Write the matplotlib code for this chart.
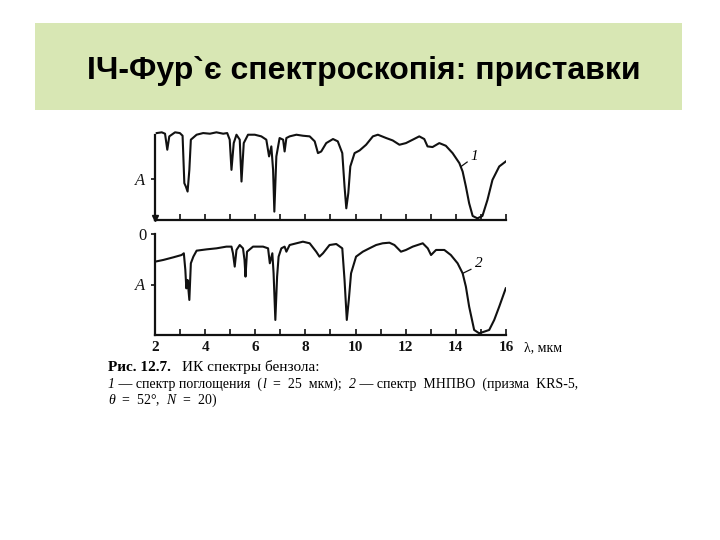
import numpy as np
import matplotlib
matplotlib.use('Agg')
import matplotlib.pyplot as plt
from matplotlib.patches import Rectangle

plt.rcParams['mathtext.fontset'] = 'custom'
plt.rcParams['mathtext.rm'] = 'Liberation Serif'
plt.rcParams['mathtext.it'] = 'Liberation Serif:italic'

# spectrum 1: absorption spectrum (wavelength, relative signal)
lam1 = [2.07, 2.27, 2.40, 2.49, 2.57, 2.80, 2.99, 3.10, 3.17, 3.23, 3.30, 3.37, 3.43,
        3.66, 3.92, 4.19, 4.45, 4.72, 4.88, 4.98, 5.05, 5.14, 5.25, 5.38, 5.45, 5.54,
        5.71, 5.98, 6.24, 6.44, 6.55, 6.64, 6.71, 6.76, 6.84, 6.97, 7.11, 7.17, 7.24,
        7.37, 7.64, 7.90, 8.17, 8.37, 8.50, 8.63, 8.83, 9.10, 9.29, 9.47, 9.56, 9.63,
        9.71, 9.79, 9.96, 10.16, 10.42, 10.69, 10.89, 11.22, 11.48, 11.75, 12.01, 12.28,
        12.54, 12.74, 12.87, 13.07, 13.34, 13.60, 13.87, 14.14, 14.27, 14.40, 14.53,
        14.67, 14.86, 15.06, 15.26, 15.46, 15.73, 15.99]
sig1 = [0.945, 0.953, 0.938, 0.764, 0.909, 0.953, 0.945, 0.916, 0.40, 0.364, 0.309, 0.545, 0.873,
        0.927, 0.945, 0.938, 0.953, 0.938, 0.945, 0.873, 0.545, 0.836, 0.927, 0.873, 0.418, 0.836,
        0.927, 0.927, 0.909, 0.873, 0.691, 0.80, 0.545, 0.091, 0.691, 0.891, 0.873, 0.745, 0.891,
        0.909, 0.927, 0.916, 0.909, 0.855, 0.727, 0.745, 0.836, 0.88, 0.855, 0.727, 0.364, 0.127,
        0.291, 0.582, 0.727, 0.756, 0.818, 0.909, 0.927, 0.891, 0.865, 0.818, 0.836, 0.873,
        0.909, 0.88, 0.80, 0.793, 0.836, 0.807, 0.727, 0.618, 0.527, 0.364, 0.182,
        0.044, 0.018, 0.044, 0.218, 0.436, 0.582, 0.636]

# spectrum 2: ATR (МНПВО) spectrum
lam2 = [2.00, 2.33, 2.73, 3.06, 3.15, 3.21, 3.25, 3.30, 3.37, 3.43, 3.53, 3.66, 4.06,
        4.45, 4.85, 5.05, 5.11, 5.18, 5.25, 5.38, 5.51, 5.57, 5.61, 5.67, 5.91, 6.31,
        6.51, 6.58, 6.68, 6.73, 6.80, 6.87, 6.93, 7.04, 7.17, 7.24, 7.37, 7.64, 7.90,
        8.17, 8.43, 8.56, 8.70, 8.96, 9.23, 9.47, 9.56, 9.65, 9.73, 9.82, 10.02, 10.29,
        10.55, 10.82, 11.08, 11.35, 11.55, 11.81, 12.01, 12.28, 12.68, 12.88, 13.01,
        13.21, 13.54, 13.80, 14.07, 14.27, 14.40, 14.53, 14.73, 14.93, 15.13, 15.33,
        15.53, 15.73, 15.99]
sig2 = [0.726, 0.743, 0.769, 0.792, 0.809, 0.644, 0.462, 0.545, 0.347, 0.71, 0.776, 0.835, 0.848,
        0.858, 0.875, 0.875, 0.809, 0.677, 0.842, 0.891, 0.858, 0.743, 0.578, 0.825, 0.875, 0.875,
        0.858, 0.71, 0.809, 0.611, 0.149, 0.578, 0.776, 0.858, 0.875, 0.825, 0.891, 0.908, 0.924,
        0.908, 0.825, 0.776, 0.809, 0.891, 0.901, 0.858, 0.545, 0.149, 0.347, 0.611, 0.776, 0.825,
        0.858, 0.891, 0.908, 0.914, 0.891, 0.825, 0.842, 0.875, 0.908, 0.858, 0.792,
        0.842, 0.842, 0.792, 0.71, 0.611, 0.479, 0.281, 0.05, 0.017, 0.033, 0.05,
        0.149, 0.281, 0.462]

xticks = list(range(2, 17))
xticklabels = [str(t) if t % 2 == 0 else '' for t in xticks]

W, H = 720, 540
fig = plt.figure(figsize=(7.2, 5.4), dpi=100)
fig.patch.set_facecolor('white')

# title box
fig.patches.append(Rectangle((35 / W, 1 - 110 / H), 647 / W, 87 / H, transform=fig.transFigure,
                             facecolor='#d8e7b4', edgecolor='none', zorder=0))
fig.text(364 / W, 1 - 79 / H, 'ІЧ-Фур`є спектроскопія: приставки', ha='center', va='baseline',
         fontsize=23, fontweight='bold', family='Liberation Sans', color='black')

left, width = 155 / W, 351 / W
ax1 = fig.add_axes([left, 1 - 220 / H, width, 92 / H])
ax2 = fig.add_axes([left, 1 - 335 / H, width, 101 / H])

serif = 'Liberation Serif'
for ax in (ax1, ax2):
    ax.set_xlim(2, 16)
    ax.set_ylim(0, 1)
    ax.set_facecolor('none')
    ax.spines['top'].set_visible(False)
    ax.spines['right'].set_visible(False)
    for s in ('left', 'bottom'):
        ax.spines[s].set_linewidth(1.6)
        ax.spines[s].set_color('#111111')
    ax.set_xticks(xticks)
    ax.tick_params(axis='x', direction='in', length=4, width=1.2, colors='#111111')
    ax.tick_params(axis='y', direction='out', length=3, width=1.2, colors='#111111', pad=3)

ax1.spines['left'].set_bounds(0, 0.92)
ax1.plot(lam1, sig1, color='#111111', lw=1.5)
ax1.set_xticklabels([])
ax1.set_yticks([0.45])
ax1.set_yticklabels(['$A$'], fontsize=12, family=serif)
ax1.plot([2], [0.02], marker='v', color='#111111', markersize=5, clip_on=False)
ax1.plot([14.2, 14.45], [0.58, 0.63], color='#111111', lw=0.9)
ax1.text(14.6, 0.62, '1', fontsize=11, family=serif, style='italic', va='bottom', ha='left')

ax2.plot(lam2, sig2, color='#111111', lw=1.5)
ax2.set_xticklabels(xticklabels, fontsize=11, family=serif, fontweight='bold')
ax2.tick_params(axis='x', pad=4)
ax2.set_yticks([1.0, 0.5])
ax2.set_yticklabels(['0', '$A$'], fontsize=12, family=serif)
ax2.plot([14.27, 14.6], [0.61, 0.65], color='#111111', lw=0.9)
ax2.text(14.75, 0.64, '2', fontsize=11, family=serif, style='italic', va='bottom', ha='left')
ax2.text(16.7, -0.06, 'λ, мкм', fontsize=10, family=serif, va='top', ha='left')

# caption
fig.text(108 / W, 1 - 371 / H, 'Рис. 12.7.', fontsize=11, family=serif, fontweight='bold',
         va='baseline')
fig.text(182 / W, 1 - 371 / H, 'ИК спектры бензола:', fontsize=11, family=serif, va='baseline')

# second caption line built from pieces so the numbers and symbols can be italic
renderer = fig.canvas.get_renderer()
pieces = [('1', 'italic'), (' — спектр поглощения  (', 'normal'), ('l', 'italic'),
          ('  =  25  мкм);  ', 'normal'), ('2', 'italic'),
          (' — спектр  МНПВО  (призма  KRS-5,', 'normal')]
xpos = 108
for txt, st in pieces:
    t = fig.text(xpos / W, 1 - 388 / H, txt, fontsize=10, family=serif, style=st,
                 va='baseline')
    xpos = t.get_window_extent(renderer).x1
fig.text(108 / W, 1 - 404 / H, '$\\theta$  =  52°,  $N$  =  20)', fontsize=10, family=serif,
         va='baseline')

fig.savefig('out.png', dpi=100)
